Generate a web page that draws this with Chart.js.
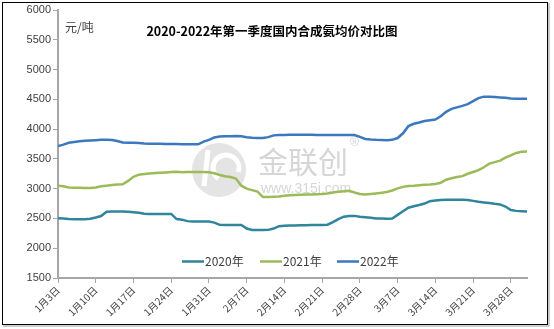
<!DOCTYPE html>
<html>
<head>
<meta charset="utf-8">
<script src="https://cdn.jsdelivr.net/npm/chart.js@4"></script>
<style>
  body { margin: 0; background: #fff; }
  #wrap { position: relative; width: 554px; height: 329px; }
</style>
</head>
<body>
<div id="wrap"><canvas id="c" width="554" height="329"></canvas></div>
<script>
// tick labels shown on the x axis (every 7 days)
const tickLabels = ["1月3日", "1月10日", "1月17日", "1月24日", "1月31日", "2月7日", "2月14日",
  "2月21日", "2月28日", "3月7日", "3月14日", "3月21日", "3月28日"];

const seriesNames = ["2020年", "2021年", "2022年"];
const colors = ["#2F859C", "#9BBB59", "#3C78BE"];

// daily values, 1月3日 .. 3月31日
const y2020 = [2504, 2498, 2490, 2487, 2487, 2487, 2495, 2515, 2540, 2612,
  2615, 2615, 2615, 2612, 2605, 2595, 2580, 2576, 2576, 2576,
  2576, 2576, 2490, 2480, 2455, 2447, 2447, 2447, 2447, 2430,
  2392, 2390, 2390, 2390, 2390, 2330, 2305, 2305, 2305, 2308,
  2330, 2370, 2378, 2380, 2382, 2384, 2386, 2388, 2390, 2392,
  2395, 2440, 2490, 2530, 2540, 2543, 2530, 2520, 2512, 2500,
  2497, 2495, 2500, 2560, 2620, 2680, 2705, 2725, 2750, 2790,
  2800, 2810, 2812, 2812, 2812, 2812, 2808, 2795, 2780, 2768,
  2758, 2745, 2735, 2700, 2640, 2627, 2620, 2615];

const y2021 = [3048, 3040, 3020, 3015, 3015, 3012, 3012, 3020, 3040, 3050,
  3060, 3068, 3075, 3130, 3200, 3235, 3248, 3255, 3262, 3268,
  3272, 3278, 3282, 3275, 3278, 3280, 3280, 3280, 3275, 3258,
  3230, 3210, 3195, 3170, 3050, 3000, 2975, 2950, 2862, 2862,
  2865, 2870, 2880, 2890, 2895, 2898, 2900, 2903, 2906, 2910,
  2918, 2935, 2950, 2958, 2964, 2935, 2910, 2902, 2910, 2920,
  2930, 2945, 2970, 3005, 3030, 3045, 3050, 3058, 3065, 3070,
  3078, 3100, 3150, 3175, 3195, 3210, 3250, 3280, 3310, 3360,
  3420, 3445, 3470, 3520, 3560, 3600, 3620, 3626];

const y2022 = [3715, 3740, 3770, 3785, 3795, 3805, 3810, 3815, 3820, 3822,
  3818, 3800, 3775, 3770, 3770, 3768, 3760, 3755, 3755, 3755,
  3752, 3750, 3748, 3746, 3745, 3745, 3745, 3790, 3820, 3860,
  3875, 3880, 3882, 3885, 3880, 3865, 3855, 3852, 3850, 3865,
  3895, 3900, 3902, 3905, 3905, 3905, 3904, 3904, 3903, 3903,
  3903, 3902, 3902, 3902, 3901, 3900, 3870, 3835, 3825, 3820,
  3818, 3815, 3820, 3850, 3930, 4050, 4090, 4110, 4135, 4150,
  4160, 4215, 4290, 4340, 4365, 4390, 4420, 4470, 4520, 4545,
  4545, 4538, 4532, 4525, 4515, 4510, 4510, 4510];

// build the daily category list
const months = [[1, 3, 31], [2, 1, 28], [3, 1, 31]];
const days = [];
months.forEach(([m, a, b]) => { for (let d = a; d <= b; d++) days.push(m + "月" + d + "日"); });

const axisGray = "#A6A6A6";

const decor = {
  id: "decor",
  beforeDatasetsDraw(chart) {
    const ctx = chart.ctx;
    ctx.save();
    // watermark
    ctx.fillStyle = "#E4E4E4";
    ctx.beginPath();
    ctx.arc(219, 170, 27, 0, Math.PI * 2);
    ctx.fill();
    ctx.strokeStyle = "#fff";
    ctx.lineWidth = 5;
    ctx.beginPath();
    ctx.arc(226, 168, 13, Math.PI * 0.7, Math.PI * 2.1);
    ctx.stroke();
    ctx.beginPath();
    ctx.moveTo(208, 150); ctx.lineTo(204, 186);
    ctx.stroke();
    ctx.fillStyle = "#D6D6D6";
    ctx.font = "30px 'Noto Sans CJK SC'";
    ctx.textBaseline = "middle";
    ctx.textAlign = "left";
    ctx.fillText("金联创", 258, 162);
    ctx.font = "14px 'Liberation Sans'";
    ctx.fillText("www.315i.com", 261, 189);
    ctx.font = "12px 'Liberation Sans'";
    ctx.fillText("®", 350, 143);
    ctx.restore();
  },
  afterDraw(chart) {
    const ctx = chart.ctx;
    ctx.save();
    // frame
    ctx.strokeStyle = "#000";
    ctx.lineWidth = 1;
    ctx.strokeRect(2.5, 2.5, 545, 322);
    ctx.strokeStyle = "#9a9a9a";
    ctx.beginPath();
    ctx.moveTo(3, 326); ctx.lineTo(549, 326); ctx.lineTo(549, 3);
    ctx.stroke();
    // title and unit
    ctx.fillStyle = "#000";
    ctx.textBaseline = "middle";
    ctx.textAlign = "center";
    ctx.font = "bold 12.5px 'Noto Sans CJK SC'";
    ctx.fillText("2020-2022年第一季度国内合成氨均价对比图", 272, 31);
    ctx.fillStyle = "#404040";
    ctx.textAlign = "left";
    ctx.font = "12px 'Noto Sans CJK SC'";
    ctx.fillText("元/吨", 65, 27);
    // legend
    const lx = [182, 260, 337];
    ctx.font = "12px 'Noto Sans CJK SC'";
    seriesNames.forEach((n, i) => {
      ctx.strokeStyle = colors[i];
      ctx.lineWidth = 2.5;
      ctx.beginPath();
      ctx.moveTo(lx[i], 261.5); ctx.lineTo(lx[i] + 22, 261.5);
      ctx.stroke();
      ctx.fillStyle = "#404040";
      ctx.fillText(n, lx[i] + 23, 261);
    });
    ctx.restore();
  }
};

const mk = (i, data) => ({
  label: seriesNames[i],
  data: data,
  borderColor: colors[i],
  backgroundColor: colors[i],
  borderWidth: 2.5,
  pointRadius: 0,
  tension: 0,
  fill: false,
});

new Chart(document.getElementById("c"), {
  type: "line",
  data: {
    labels: days,
    datasets: [mk(0, y2020), mk(1, y2021), mk(2, y2022)],
  },
  options: {
    responsive: false,
    animation: false,
    layout: { padding: { top: 10, right: 27, left: 0, bottom: 0 } },
    plugins: { legend: { display: false }, tooltip: { enabled: false } },
    scales: {
      x: {
        offset: false,
        afterFit: (s) => { s.height = 51; },
        border: { color: axisGray, width: 2 },
        grid: {
          drawOnChartArea: false,
          tickLength: 5,
          color: (c) => (c.index % 7 === 0 ? axisGray : "rgba(0,0,0,0)"),
        },
        ticks: {
          autoSkip: false,
          maxRotation: 45,
          minRotation: 45,
          padding: 1,
          color: "#404040",
          font: { family: "'Noto Sans CJK SC'", size: 10 },
          callback: (v, i) => (i % 7 === 0 ? tickLabels[i / 7] : ""),
        },
      },
      y: {
        min: 1500,
        max: 6000,
        afterFit: (s) => { s.width = 58; },
        border: { color: axisGray, width: 2 },
        grid: { drawOnChartArea: false, tickLength: 5, color: axisGray },
        ticks: {
          stepSize: 500,
          padding: 2,
          color: "#404040",
          font: { family: "'Liberation Sans'", size: 11 },
          callback: (v) => String(v),
        },
      },
    },
  },
  plugins: [decor],
});
</script>
</body>
</html>
